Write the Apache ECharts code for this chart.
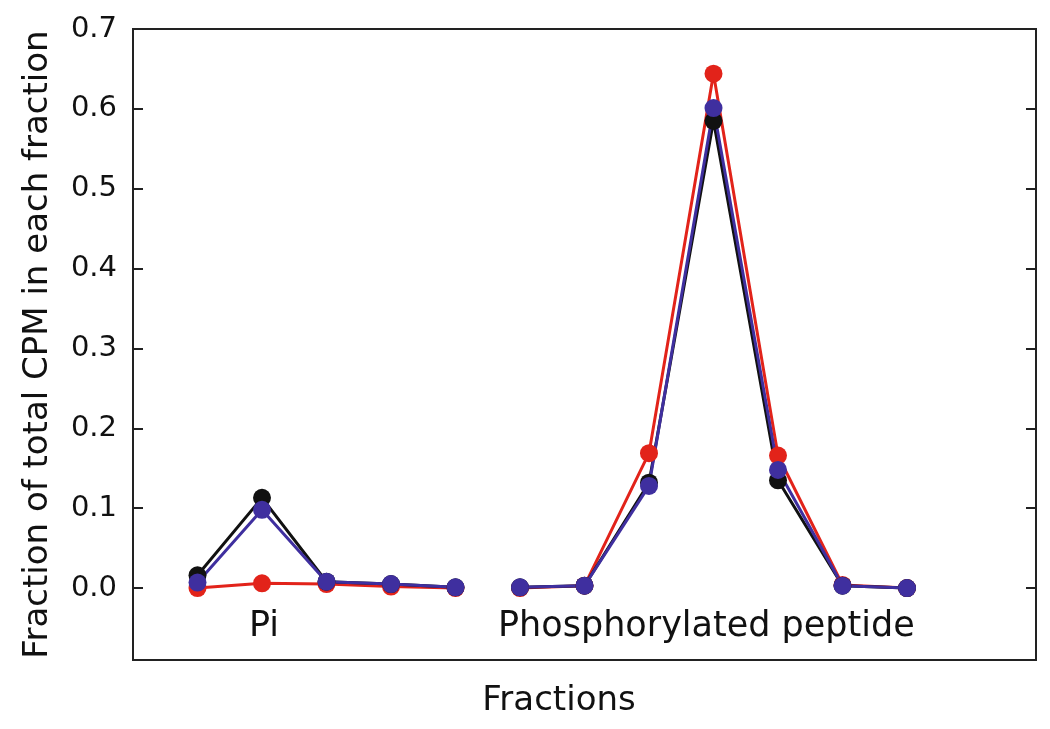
<!DOCTYPE html>
<html>
<head>
<meta charset="utf-8">
<title>Fraction of total CPM</title>
<script src="https://cdn.jsdelivr.net/npm/echarts@6/dist/echarts.min.js"></script>
<style>
  html, body { margin: 0; padding: 0; background: #fff; }
  #chart { width: 1050px; height: 729px; }
</style>
</head>
<body>
<div id="chart"></div>
<script>
// fraction numbers of the two peaks
const piFractions = [1, 2, 3, 4, 5]
const peptideFractions = [6, 7, 8, 9, 10, 11, 12]

// values per fraction (1..12)
const blackValues = [0.016, 0.113, 0.008, 0.005, 0.001, 0.001, 0.003, 0.132, 0.585, 0.135, 0.003, 0.000]
const redValues = [0.000, 0.006, 0.005, 0.002, 0.000, 0.000, 0.003, 0.169, 0.644, 0.166, 0.004, 0.000]
const blueValues = [0.007, 0.098, 0.008, 0.005, 0.001, 0.001, 0.003, 0.128, 0.601, 0.148, 0.003, 0.000]

const yTicks = [0, 0.1, 0.2, 0.3, 0.4, 0.5, 0.6, 0.7]

const FONT = '"DejaVu Sans", Verdana, sans-serif'

const chart = echarts.init(document.getElementById('chart'))

// one series per peak so the line breaks between Pi and peptide
const makeSeries = (name, color, values) => {
  return [piFractions, peptideFractions].map(fr => ({
    name: name,
    type: 'line',
    data: fr.map(f => [f, values[f - 1]]),
    symbol: 'circle',
    symbolSize: 18,
    lineStyle: { color: color, width: 3 },
    itemStyle: { color: color },
    animation: false
  }))
}

const yAxisBase = {
  type: 'value',
  min: -0.09,
  max: 0.7,
  axisLine: { show: false },
  splitLine: { show: false },
  axisTick: {
    show: true,
    inside: true,
    length: 10,
    customValues: yTicks,
    lineStyle: { color: '#222', width: 2 }
  }
}

const option = {
  backgroundColor: '#fff',
  grid: {
    left: 133,
    right: 14,
    top: 29,
    bottom: 69,
    show: true,
    borderColor: '#222',
    borderWidth: 2
  },
  xAxis: {
    type: 'value',
    min: 0,
    max: 14,
    axisLine: { show: false },
    axisTick: { show: false },
    axisLabel: { show: false },
    splitLine: { show: false },
    name: 'Fractions',
    nameLocation: 'middle',
    nameGap: 24,
    nameTextStyle: {
      fontFamily: FONT,
      fontSize: 34,
      color: '#111',
      padding: [0, 51, 0, 0]
    }
  },
  yAxis: [
    {
      ...yAxisBase,
      position: 'left',
      axisLabel: {
        customValues: yTicks,
        formatter: v => v.toFixed(1),
        margin: 16,
        fontFamily: FONT,
        fontSize: 29,
        color: '#111'
      },
      name: 'Fraction of total CPM in each fraction',
      nameLocation: 'middle',
      nameGap: 78,
      nameTextStyle: {
        fontFamily: FONT,
        fontSize: 34,
        color: '#111'
      }
    },
    {
      ...yAxisBase,
      position: 'right',
      axisLabel: { show: false }
    }
  ],
  graphic: [
    {
      type: 'text',
      left: 249,
      top: 609,
      style: { text: 'Pi', font: '35px ' + FONT, fill: '#111' }
    },
    {
      type: 'text',
      left: 498,
      top: 609,
      style: { text: 'Phosphorylated peptide', font: '35px ' + FONT, fill: '#111' }
    }
  ],
  series: [
    ...makeSeries('Red', '#e2231a', redValues),
    ...makeSeries('Black', '#111111', blackValues),
    ...makeSeries('Blue', '#3f2f9f', blueValues)
  ]
}

chart.setOption(option)
</script>
</body>
</html>
